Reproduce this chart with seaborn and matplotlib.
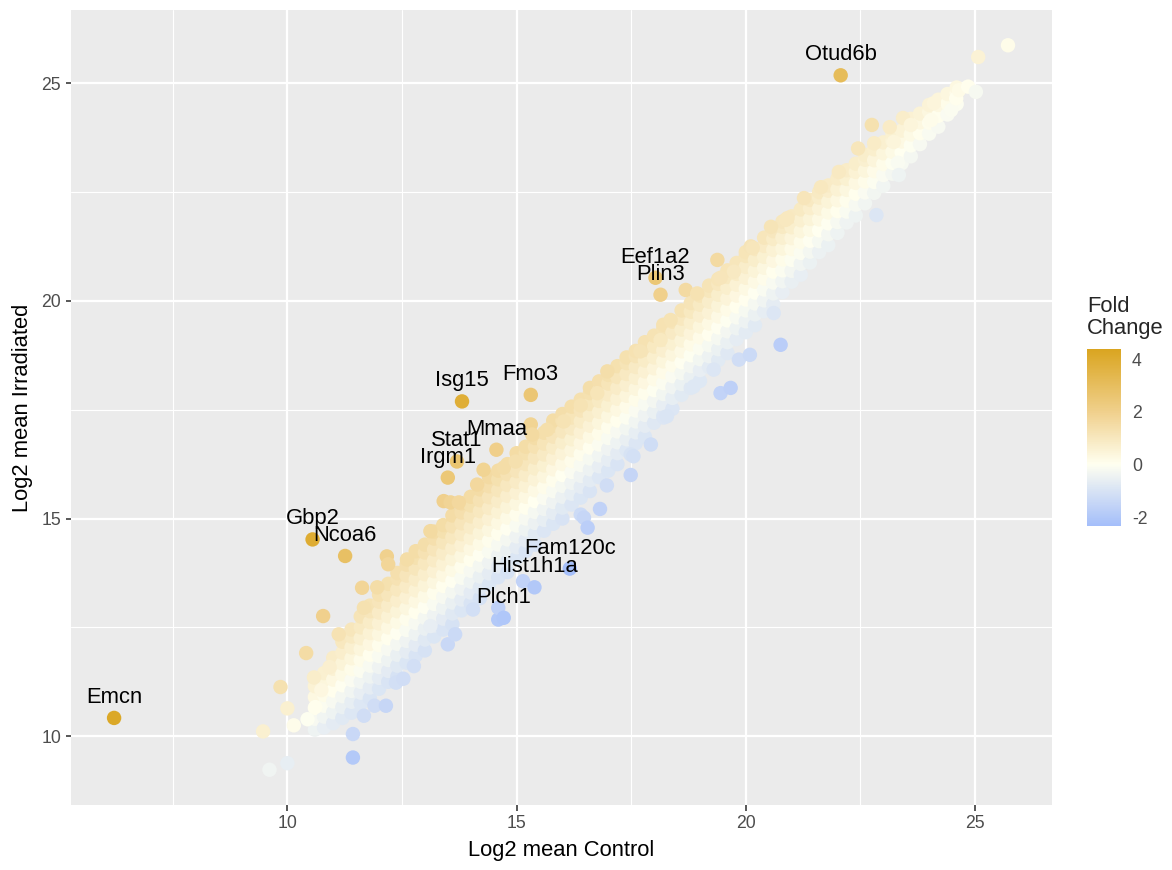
import numpy as np
import pandas as pd
import matplotlib
matplotlib.use("Agg")
import matplotlib.pyplot as plt
import seaborn as sns
from matplotlib.colors import LinearSegmentedColormap, Normalize
from matplotlib.cm import ScalarMappable
from matplotlib.ticker import MultipleLocator

# dense diagonal band: log2 mean control of each column and the fold changes stacked in it
band_control = [10.6, 10.8, 11.0, 11.2, 11.4, 11.6, 11.8, 12.0, 12.2, 12.4,
                12.6, 12.8, 13.0, 13.2, 13.4, 13.6, 13.8, 14.0, 14.2, 14.4,
                14.6, 14.8, 15.0, 15.2, 15.4, 15.6, 15.8, 16.0, 16.2, 16.4,
                16.6, 16.8, 17.0, 17.2, 17.4, 17.6, 17.8, 18.0, 18.2, 18.4,
                18.6, 18.8, 19.0, 19.2, 19.4, 19.6, 19.8, 20.0, 20.2, 20.4,
                20.6, 20.8, 21.0, 21.2, 21.4, 21.6, 21.8, 22.0, 22.2, 22.4,
                22.6, 22.8, 23.0, 23.2, 23.4, 23.6, 23.8, 24.0, 24.2, 24.4, 24.6]
band_fold = [
    [-0.45, -0.2, 0.05, 0.3, 0.55],
    [-0.6, -0.35, -0.1, 0.15, 0.4, 0.65],
    [-0.7, -0.45, -0.2, 0.05, 0.3, 0.55, 0.8],
    [-0.78, -0.53, -0.28, -0.03, 0.22, 0.47, 0.72, 0.97],
    [-0.86, -0.61, -0.36, -0.11, 0.14, 0.39, 0.64, 0.89, 1.05],
    [-0.85, -0.6, -0.35, -0.1, 0.15, 0.4, 0.65, 0.9, 1.15],
    [-0.93, -0.68, -0.43, -0.18, 0.07, 0.32, 0.57, 0.82, 1.07, 1.2],
    [-0.91, -0.66, -0.41, -0.16, 0.09, 0.34, 0.59, 0.84, 1.09, 1.25],
    [-0.95, -0.7, -0.45, -0.2, 0.05, 0.3, 0.55, 0.8, 1.05, 1.3],
    [-1.03, -0.78, -0.53, -0.28, -0.03, 0.22, 0.47, 0.72, 0.97, 1.22, 1.35],
    [-0.91, -0.66, -0.41, -0.16, 0.09, 0.34, 0.59, 0.84, 1.09, 1.34],
    [-0.95, -0.7, -0.45, -0.2, 0.05, 0.3, 0.55, 0.8, 1.05, 1.3, 1.45],
    [-1.03, -0.78, -0.53, -0.28, -0.03, 0.22, 0.47, 0.72, 0.97, 1.22, 1.4],
    [-0.91, -0.66, -0.41, -0.16, 0.09, 0.34, 0.59, 0.84, 1.09, 1.34, 1.5],
    [-0.95, -0.7, -0.45, -0.2, 0.05, 0.3, 0.55, 0.8, 1.05, 1.3, 1.45],
    [-1.03, -0.78, -0.53, -0.28, -0.03, 0.22, 0.47, 0.72, 0.97, 1.22, 1.47],
    [-0.91, -0.66, -0.41, -0.16, 0.09, 0.34, 0.59, 0.84, 1.09, 1.34, 1.55],
    [-0.95, -0.7, -0.45, -0.2, 0.05, 0.3, 0.55, 0.8, 1.05, 1.3, 1.5],
    [-1.03, -0.78, -0.53, -0.28, -0.03, 0.22, 0.47, 0.72, 0.97, 1.22, 1.47],
    [-0.91, -0.66, -0.41, -0.16, 0.09, 0.34, 0.59, 0.84, 1.09, 1.34, 1.55],
    [-0.95, -0.7, -0.45, -0.2, 0.05, 0.3, 0.55, 0.8, 1.05, 1.3, 1.5],
    [-1.03, -0.78, -0.53, -0.28, -0.03, 0.22, 0.47, 0.72, 0.97, 1.22, 1.45],
    [-0.91, -0.66, -0.41, -0.16, 0.09, 0.34, 0.59, 0.84, 1.09, 1.34, 1.5],
    [-0.95, -0.7, -0.45, -0.2, 0.05, 0.3, 0.55, 0.8, 1.05, 1.3, 1.45],
    [-1.0, -0.75, -0.5, -0.25, 0.0, 0.25, 0.5, 0.75, 1.0, 1.25, 1.45],
    [-0.88, -0.63, -0.38, -0.13, 0.12, 0.37, 0.62, 0.87, 1.12, 1.37],
    [-0.92, -0.67, -0.42, -0.17, 0.08, 0.33, 0.58, 0.83, 1.08, 1.33, 1.45],
    [-1.0, -0.75, -0.5, -0.25, 0.0, 0.25, 0.5, 0.75, 1.0, 1.25, 1.4],
    [-0.88, -0.63, -0.38, -0.13, 0.12, 0.37, 0.62, 0.87, 1.12, 1.37],
    [-0.92, -0.67, -0.42, -0.17, 0.08, 0.33, 0.58, 0.83, 1.08, 1.33],
    [-0.97, -0.72, -0.47, -0.22, 0.03, 0.28, 0.53, 0.78, 1.03, 1.28, 1.4],
    [-0.85, -0.6, -0.35, -0.1, 0.15, 0.4, 0.65, 0.9, 1.15, 1.35],
    [-0.9, -0.65, -0.4, -0.15, 0.1, 0.35, 0.6, 0.85, 1.1, 1.3],
    [-0.95, -0.7, -0.45, -0.2, 0.05, 0.3, 0.55, 0.8, 1.05, 1.3],
    [-0.83, -0.58, -0.33, -0.08, 0.17, 0.42, 0.67, 0.92, 1.17, 1.3],
    [-0.87, -0.62, -0.37, -0.12, 0.13, 0.38, 0.63, 0.88, 1.13, 1.25],
    [-0.92, -0.67, -0.42, -0.17, 0.08, 0.33, 0.58, 0.83, 1.08, 1.25],
    [-0.8, -0.55, -0.3, -0.05, 0.2, 0.45, 0.7, 0.95, 1.2],
    [-0.84, -0.59, -0.34, -0.09, 0.16, 0.41, 0.66, 0.91, 1.16, 1.25],
    [-0.88, -0.63, -0.38, -0.13, 0.12, 0.37, 0.62, 0.87, 1.12],
    [-0.76, -0.51, -0.26, -0.01, 0.24, 0.49, 0.74, 0.99, 1.18],
    [-0.8, -0.55, -0.3, -0.05, 0.2, 0.45, 0.7, 0.95, 1.15],
    [-0.84, -0.59, -0.34, -0.09, 0.16, 0.41, 0.66, 0.91, 1.12],
    [-0.72, -0.47, -0.22, 0.03, 0.28, 0.53, 0.78, 1.03, 1.15],
    [-0.76, -0.51, -0.26, -0.01, 0.24, 0.49, 0.74, 0.99, 1.1],
    [-0.8, -0.55, -0.3, -0.05, 0.2, 0.45, 0.7, 0.95, 1.1],
    [-0.68, -0.43, -0.18, 0.07, 0.32, 0.57, 0.82, 1.07],
    [-0.72, -0.47, -0.22, 0.03, 0.28, 0.53, 0.78, 1.03, 1.12],
    [-0.76, -0.51, -0.26, -0.01, 0.24, 0.49, 0.74, 0.99],
    [-0.64, -0.39, -0.14, 0.11, 0.36, 0.61, 0.86, 1.05],
    [-0.68, -0.43, -0.18, 0.07, 0.32, 0.57, 0.82, 1.0],
    [-0.6, -0.35, -0.1, 0.15, 0.4, 0.65, 0.9, 1.02],
    [-0.56, -0.31, -0.06, 0.19, 0.44, 0.69, 0.94],
    [-0.6, -0.35, -0.1, 0.15, 0.4, 0.65, 0.9],
    [-0.52, -0.27, -0.02, 0.23, 0.48, 0.73, 0.92],
    [-0.48, -0.23, 0.02, 0.27, 0.52, 0.77, 0.9],
    [-0.52, -0.27, -0.02, 0.23, 0.48, 0.73, 0.85],
    [-0.44, -0.19, 0.06, 0.31, 0.56, 0.81],
    [-0.4, -0.15, 0.1, 0.35, 0.6, 0.8],
    [-0.44, -0.19, 0.06, 0.31, 0.56, 0.75],
    [-0.36, -0.11, 0.14, 0.39, 0.64, 0.75],
    [-0.32, -0.07, 0.18, 0.43, 0.68],
    [-0.36, -0.11, 0.14, 0.39, 0.64],
    [-0.28, -0.03, 0.22, 0.47, 0.62],
    [-0.24, 0.01, 0.26, 0.51],
    [-0.28, -0.03, 0.22, 0.47, 0.58],
    [-0.2, 0.05, 0.3, 0.5],
    [-0.16, 0.09, 0.34, 0.5],
    [-0.2, 0.05, 0.3, 0.42],
    [-0.12, 0.13, 0.35],
    [-0.08, 0.17, 0.3],
]

# genes scattered off the band
extra_control = [9.47, 9.61, 10.0, 9.85, 10.0, 10.14, 10.44, 10.61, 10.41, 10.78,
                 11.12, 10.58, 10.74, 10.92, 11.43, 11.43, 11.67, 11.9, 12.15, 12.37,
                 12.53, 12.76, 13.12, 13.5, 13.66, 14.05, 14.6, 14.6, 15.14, 11.63,
                 11.67, 11.96, 12.17, 12.2, 12.61, 13.12, 13.41, 13.56, 13.74, 14.14,
                 14.28, 14.72, 14.98, 15.31, 15.34, 15.67, 16.03, 16.4, 16.76, 16.98,
                 17.7, 18.14, 18.36, 18.69, 18.94, 19.38, 19.45, 19.74, 20.11, 20.55,
                 20.91, 20.15, 20.87, 21.27, 21.64, 22.03, 22.45, 22.8, 23.23, 22.75,
                 23.14, 23.43, 23.6, 23.32, 23.34, 24.1, 24.04, 24.48, 24.59, 24.65,
                 24.85, 25.02, 25.07, 25.72, 16.4, 16.47, 16.55, 16.82, 16.97, 17.49,
                 17.49, 17.55, 17.93, 18.21, 18.28, 18.86, 19.3, 19.45, 19.67, 19.85,
                 20.09, 20.76, 20.61, 22.85]
extra_irradiated = [10.11, 9.23, 9.38, 11.13, 10.64, 10.25, 10.39, 10.67, 11.91, 12.76,
                    12.34, 11.35, 11.06, 11.59, 10.05, 9.51, 10.47, 10.7, 10.7, 11.23,
                    11.32, 11.61, 12.53, 12.11, 12.34, 12.91, 12.68, 12.95, 13.56, 13.41,
                    12.95, 13.42, 14.13, 13.95, 14.06, 14.71, 15.4, 15.37, 15.37, 15.78,
                    16.12, 16.17, 16.31, 17.16, 16.93, 17.04, 17.23, 17.6, 17.88, 18.38,
                    18.84, 19.1, 19.56, 20.25, 20.17, 20.94, 20.53, 20.67, 21.25, 21.7,
                    21.9, 21.22, 21.86, 22.36, 22.61, 22.96, 23.5, 23.62, 23.65, 24.04,
                    23.99, 24.2, 24.04, 23.17, 22.89, 24.54, 24.15, 24.38, 24.65, 24.84,
                    24.92, 24.8, 25.6, 25.87, 15.09, 15.02, 14.79, 15.22, 15.76, 16.0,
                    16.47, 16.43, 16.7, 17.32, 17.35, 18.03, 18.42, 17.88, 18.0, 18.65,
                    18.76, 18.99, 19.72, 21.97]

# labelled genes
gene_names = ["Emcn", "Gbp2", "Ncoa6", "Irgm1", "Stat1", "Mmaa", "Isg15", "Fmo3",
              "Plch1", "Hist1h1a", "Fam120c", "Eef1a2", "Plin3", "Otud6b"]
gene_control = [6.22, 10.55, 11.26, 13.5, 13.7, 14.56, 13.81, 15.31,
                14.72, 15.39, 16.16, 18.03, 18.14, 22.07]
gene_irradiated = [10.42, 14.52, 14.14, 15.94, 16.31, 16.58, 17.69, 17.84,
                   12.72, 13.42, 13.85, 20.53, 20.14, 25.18]

fold_limits = (-2.34, 4.38)

rows = []
for x, folds in zip(band_control, band_fold):
    for f in folds:
        rows.append((x, x + f))
rows += list(zip(extra_control, extra_irradiated))
rows += list(zip(gene_control, gene_irradiated))
df = pd.DataFrame(rows, columns=["control", "irradiated"])
df["fold"] = df["irradiated"] - df["control"]

sns.set_style("darkgrid")
plt.rcParams["font.family"] = ["Liberation Sans", "DejaVu Sans"]
plt.rcParams["axes.unicode_minus"] = False

lo, hi = fold_limits
pos = lambda v: (v - lo) / (hi - lo)
cmap = LinearSegmentedColormap.from_list(
    "fold", [(0.0, "#A4BEFA"), (pos(0), "#FFFFF0"), (pos(2), "#F0D08C"), (1.0, "#DAA520")])
norm = Normalize(lo, hi)

fig = plt.figure(figsize=(1172 / 144, 870 / 144), dpi=144)
ax = fig.add_axes([71 / 1172, 1 - 805 / 870, (1052 - 71) / 1172, (805 - 10) / 870])
ax.set_facecolor("#EBEBEB")

sns.scatterplot(data=df, x="control", y="irradiated", hue="fold", palette=cmap,
                hue_norm=norm, s=52, linewidth=0, alpha=1, legend=False, ax=ax)

for name, x, y in zip(gene_names, gene_control, gene_irradiated):
    ax.annotate(name, (x, y), xytext=(0, 7.5), textcoords="offset points",
                ha="center", va="baseline", fontsize=11, color="black")

ax.set_xlim(5.28, 26.68)
ax.set_ylim(8.42, 26.68)
ax.xaxis.set_major_locator(MultipleLocator(5))
ax.yaxis.set_major_locator(MultipleLocator(5))
ax.xaxis.set_minor_locator(MultipleLocator(2.5))
ax.yaxis.set_minor_locator(MultipleLocator(2.5))
ax.grid(which="major", color="white", linewidth=1.1)
ax.grid(which="minor", color="white", linewidth=0.55)
ax.set_axisbelow(True)
for sp in ax.spines.values():
    sp.set_visible(False)
ax.tick_params(which="major", length=2.75, width=0.8, color="#333333",
               labelsize=8.8, labelcolor="#4D4D4D", pad=2.2, bottom=True, left=True)
ax.tick_params(which="minor", length=0)
ax.set_xlabel("Log2 mean Control", fontsize=11, color="black", labelpad=4)
ax.set_ylabel("Log2 mean Irradiated", fontsize=11, color="black", labelpad=4)

cax = fig.add_axes([1087 / 1172, 1 - 526 / 870, 34 / 1172, 177 / 870])
cb = fig.colorbar(ScalarMappable(norm=norm, cmap=cmap), cax=cax, ticks=[-2, 0, 2, 4])
cb.outline.set_visible(False)
cax.tick_params(direction="in", color="white", length=6, width=1, left=True, right=True,
                labelleft=False, labelright=True, labelsize=8.8, labelcolor="#4D4D4D", pad=5.5)
fig.text(1087 / 1172, 1 - 296 / 870, "Fold\nChange", ha="left", va="top",
         fontsize=11, linespacing=1.05)

fig.savefig("out.png", dpi=144)
